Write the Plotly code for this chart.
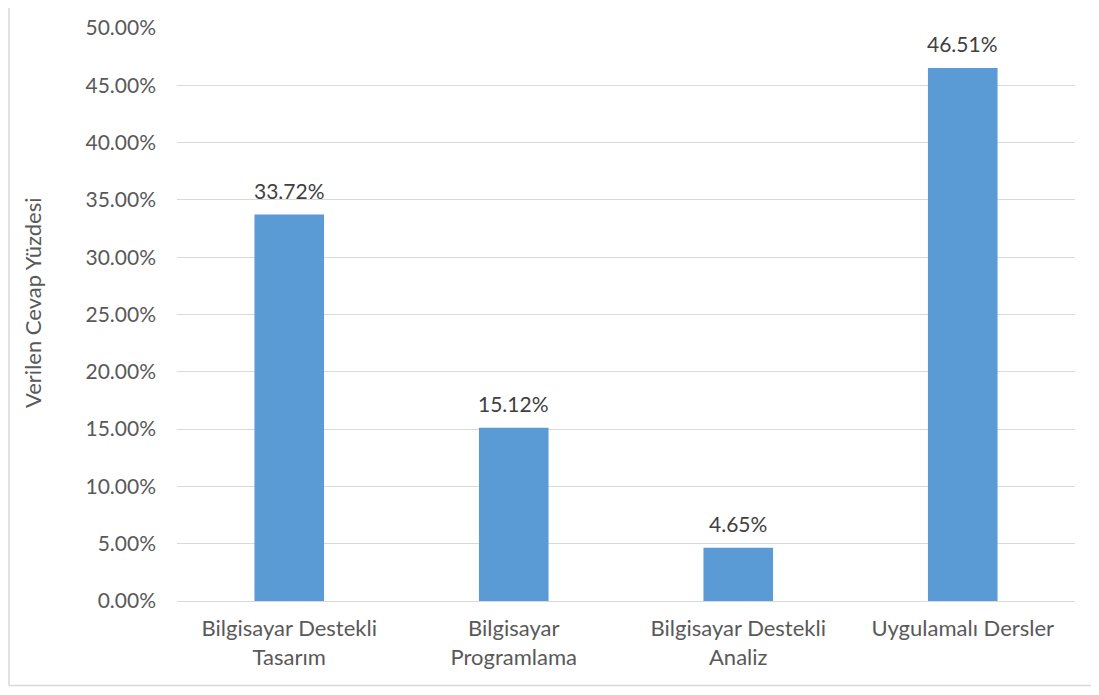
import plotly.graph_objects as go

categories = ["Bilgisayar Destekli<br>Tasarım", "Bilgisayar<br>Programlama",
              "Bilgisayar Destekli<br>Analiz", "Uygulamalı Dersler"]
values = [0.3372, 0.1512, 0.0465, 0.4651]
labels = ["33.72%", "15.12%", "4.65%", "46.51%"]
yticks = [0, 0.05, 0.10, 0.15, 0.20, 0.25, 0.30, 0.35, 0.40, 0.45, 0.50]
y_title = "Verilen Cevap Yüzdesi"

# page body has an 8px margin on every side, so keep the figure inside the window
OFF = 8
W, H = 1099 - 2 * OFF, 695 - 2 * OFF
L, T = 177 - OFF, 28 - OFF
R = W - (1075 - OFF)
B = H - (601 - OFF)
pw, ph = W - L - R, H - T - B

fig = go.Figure(go.Bar(
    x=categories,
    y=values,
    marker=dict(color="#5B9BD5", line=dict(width=0)),
    hoverinfo="x+y",
))

# value labels above the bars
for cat, val, lab in zip(categories, values, labels):
    fig.add_annotation(
        x=cat, y=val, text=lab, showarrow=False,
        yanchor="bottom", yshift=10,
        font=dict(size=21, color="#404040"),
    )

# y axis title (Excel places it slightly above the plot centre)
fig.add_annotation(
    text=y_title, textangle=-90, showarrow=False,
    xref="paper", yref="paper",
    x=(32 - OFF - L) / pw, y=(601 - 303) / ph,
    xanchor="center", yanchor="middle",
    font=dict(size=22, color="#595959"),
)

border = dict(color="#D9D9D9", width=1.5)
bottom_y = -(H - 1.5 - T - ph) / ph
left_x = (1 - L) / pw
fig.update_layout(
    width=W, height=H,
    margin=dict(l=L, r=R, t=T, b=B, autoexpand=False),
    paper_bgcolor="white",
    plot_bgcolor="white",
    font=dict(family="Lato, sans-serif", size=21, color="#595959"),
    bargap=0.69,
    showlegend=False,
    # outer chart border: only the left and bottom edges are visible
    shapes=[
        dict(type="line", xref="paper", yref="paper",
             x0=left_x, x1=left_x, y0=bottom_y, y1=1 + T / ph + 0.05,
             line=border),
        dict(type="line", xref="paper", yref="paper",
             x0=left_x, x1=1 + R / pw + 0.05, y0=bottom_y, y1=bottom_y,
             line=border),
    ],
)

fig.update_xaxes(
    automargin=False,
    showgrid=False, showline=True, linecolor="#D9D9D9", linewidth=1,
    ticks="", ticklabelstandoff=8,
    tickfont=dict(size=22, color="#595959"),
)
fig.update_yaxes(
    automargin=False,
    range=[0, 0.5], tickvals=yticks, tickformat=".2%",
    showgrid=True, gridcolor="#D9D9D9", gridwidth=1,
    zeroline=False, showline=False, ticks="",
    ticklabelstandoff=20,
    tickfont=dict(size=21, color="#595959"),
)

fig.write_html("out.html")
